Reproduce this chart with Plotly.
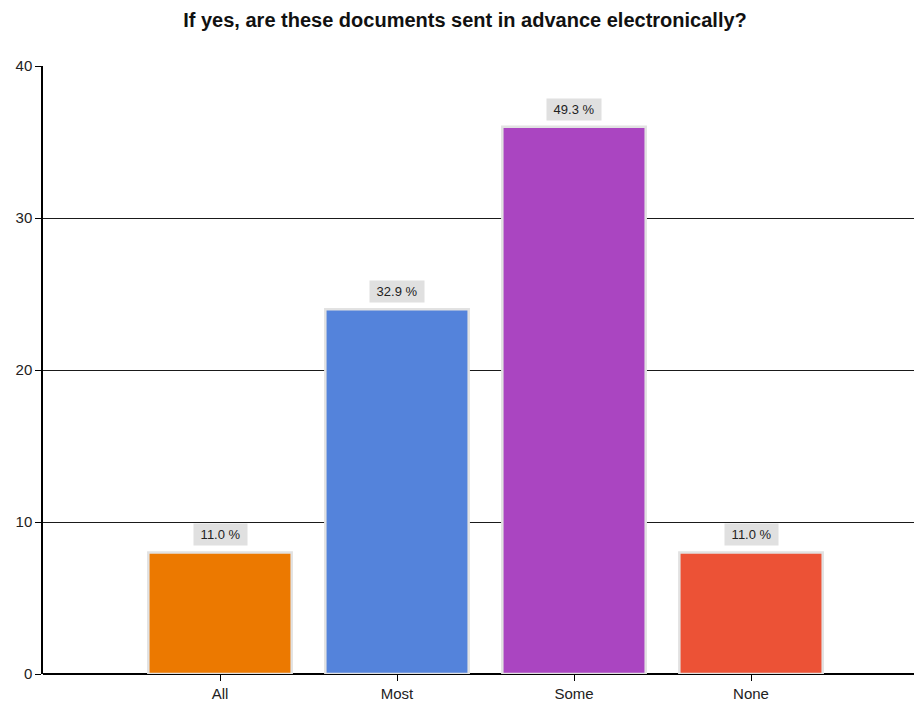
import plotly.graph_objects as go

categories = ["All", "Most", "Some", "None"]
counts = [8, 24, 36, 8]
percent_labels = ["11.0 %", "32.9 %", "49.3 %", "11.0 %"]
bar_colors = ["#EC7900", "#5483DB", "#AA45C1", "#EC5236"]
y_ticks = [0, 10, 20, 30, 40]

FONT = "Liberation Sans, Arial, sans-serif"

fig = go.Figure()
fig.add_trace(go.Bar(
    x=list(range(len(categories))),
    y=counts,
    width=0.81,
    marker=dict(color=bar_colors, line=dict(color="#E2E2E2", width=2.5)),
    hoverinfo="skip",
))

for i, (v, lab) in enumerate(zip(counts, percent_labels)):
    fig.add_annotation(
        x=i, y=v, text="&nbsp;" + lab + "&nbsp;", showarrow=False,
        yanchor="bottom", yshift=6,
        bgcolor="#E0E0E0", borderpad=3,
        font=dict(family=FONT, size=13, color="#222222"),
    )

# y-axis line extending slightly below the x-axis
fig.add_shape(type="line", xref="paper", x0=0, x1=0, yref="y",
              ysizemode="pixel", yanchor=0, y0=0, y1=-10,
              line=dict(color="#000000", width=1.5))

fig.update_layout(
    width=914, height=696,
    margin=dict(l=35, r=0, t=58, b=30),
    paper_bgcolor="white", plot_bgcolor="white",
    showlegend=False,
    title=dict(text="<b>If yes, are these documents sent in advance electronically?</b>",
               x=0.5, xanchor="center", yref="container", y=0.983, yanchor="middle",
               font=dict(family=FONT, size=20, color="#111111")),
    xaxis=dict(
        range=[-1, 3.966], tickmode="array", tickvals=list(range(len(categories))),
        ticktext=categories, ticks="outside", ticklen=6, tickcolor="#000",
        showgrid=False, zeroline=False, showline=False,
        tickfont=dict(family=FONT, size=15, color="#222222"),
    ),
    yaxis=dict(
        range=[0, 40], tickmode="array", tickvals=y_ticks,
        ticks="outside", ticklen=6, tickcolor="#000",
        showgrid=True, gridcolor="#1a1a1a", gridwidth=1,
        zeroline=True, zerolinecolor="#000000", zerolinewidth=1.5,
        showline=True, linecolor="#000000", linewidth=1.5,
        tickfont=dict(family=FONT, size=15, color="#222222"),
    ),
)

fig.write_html("out.html")
